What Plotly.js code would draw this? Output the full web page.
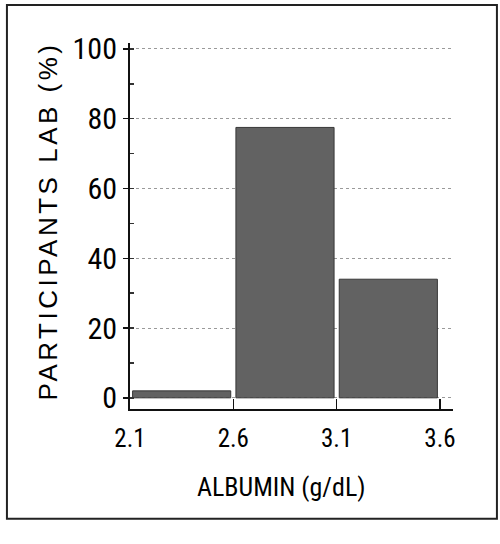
<!DOCTYPE html>
<html>
<head>
<meta charset="utf-8">
<script src="https://cdn.plot.ly/plotly-3.0.1.min.js"></script>
<style>
  html, body { margin: 0; padding: 0; background: #fff; }
  #chart { width: 500px; height: 544px; }
</style>
</head>
<body>
<div id="chart"></div>
<script>
// Data
const binEdges = [2.1, 2.6, 3.1, 3.6];           // albumin bin edges (g/dL)
const percentValues = [2, 77.5, 34];              // participants LAB (%)
const xTickVals = [2.1, 2.6, 3.1, 3.6];
const xTickText = ['2.1', '2.6', '3.1', '3.6'];
const yTickVals = [0, 20, 40, 60, 80, 100];
const xTitle = 'ALBUMIN (g/dL)';
const yTitle = 'PARTICIPANTS LAB (%)';

const binCenters = percentValues.map((_, i) => (binEdges[i] + binEdges[i + 1]) / 2);
const binWidths = percentValues.map((_, i) => (binEdges[i + 1] - binEdges[i]) * 0.95);

const narrow = 'Roboto Condensed, Roboto, sans-serif';

const trace = {
  type: 'bar',
  x: binCenters,
  y: percentValues,
  width: binWidths,
  marker: { color: '#626262', line: { color: '#383838', width: 1 } },
  hoverinfo: 'x+y'
};

const layout = {
  width: 500, height: 544,
  margin: { l: 130, r: 47, t: 43, b: 135 },
  paper_bgcolor: '#ffffff',
  plot_bgcolor: '#ffffff',
  showlegend: false,
  xaxis: {
    range: [2.1, 3.663],
    tickvals: xTickVals,
    ticktext: xTickText,
    ticks: 'inside', ticklen: 10, tickwidth: 1.5, tickcolor: '#111',
    ticklabelstandoff: 6,
    showline: true, linecolor: '#111', linewidth: 2,
    showgrid: false, zeroline: false,
    tickfont: { family: narrow, size: 25, color: '#000' }
  },
  yaxis: {
    range: [-3.2, 101.7],
    tickvals: yTickVals,
    ticks: 'outside', ticklen: 5, tickwidth: 1.5, tickcolor: '#111',
    minor: { dtick: 10, tick0: 0, ticks: 'inside', ticklen: 4, tickcolor: '#333', showgrid: false },
    showline: true, linecolor: '#111', linewidth: 2,
    showgrid: true, gridcolor: '#9a9a9a', griddash: 'dot', gridwidth: 1,
    zeroline: false,
    tickfont: { family: narrow, size: 30, color: '#000' }
  },
  annotations: [
    {
      text: yTitle, xref: 'paper', yref: 'paper',
      x: -0.254, y: 0.515, xanchor: 'center', yanchor: 'middle',
      textangle: -90, showarrow: false,
      font: { family: 'Arial, sans-serif', size: 26, color: '#000' }
    },
    {
      text: xTitle, xref: 'paper', yref: 'paper',
      x: 0.47, y: -0.213, xanchor: 'center', yanchor: 'middle',
      showarrow: false,
      font: { family: narrow, size: 26, color: '#000' }
    }
  ],
  shapes: [
    {
      type: 'rect', xref: 'paper', yref: 'paper',
      x0: -0.381, x1: 1.136, y0: -0.30, y1: 1.104,
      line: { color: '#222', width: 2 }, fillcolor: 'rgba(0,0,0,0)', layer: 'above'
    }
  ]
};

Plotly.newPlot('chart', [trace], layout, { displayModeBar: false, staticPlot: true }).then(() => {
  const ann = document.querySelectorAll('.annotation-text');
  if (ann.length) {
    ann[0].style.letterSpacing = '3.5px';
  }
});
</script>
</body>
</html>
